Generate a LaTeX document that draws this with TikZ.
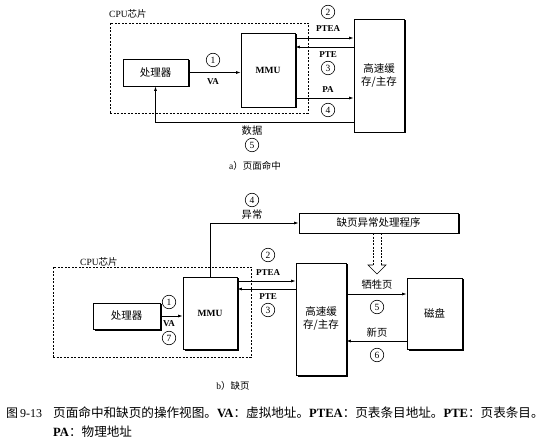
\documentclass[tikz,border=0pt]{standalone}
\usepackage{fontspec}
\setmainfont{Liberation Serif}
\newfontfamily\cjk{Noto Sans CJK SC}
\usetikzlibrary{arrows.meta,shadows}
\tikzset{
  box/.style={draw, line width=0.8pt, fill=white, inner sep=0pt,
    drop shadow={shadow xshift=1.5pt, shadow yshift=-1.5pt, opacity=1, fill=black},
    font=\cjk\fontsize{10.5}{13}\selectfont, align=center},
  cpubox/.style={draw, line width=0.7pt, dash pattern=on 2pt off 1.5pt, inner sep=0pt},
  arr/.style={-{Latex[length=4.5pt,width=3pt]}, line width=0.7pt},
  num/.style={circle, draw, line width=0.6pt, minimum size=13.5pt, inner sep=0pt, font=\fontsize{9.5}{9.5}\selectfont},
  lab/.style={inner sep=0pt, font=\bfseries\fontsize{9}{10}\selectfont},
  zhlab/.style={inner sep=0pt, font=\cjk\fontsize{10.3}{11}\selectfont},
  subcap/.style={inner sep=0pt, font=\fontsize{9.5}{10}\selectfont},
  cpulab/.style={anchor=west, inner sep=0pt, font=\fontsize{9.5}{10}\selectfont},
}
\begin{document}
\begin{tikzpicture}[x=1pt,y=-1pt]
\useasboundingbox (0,0) rectangle (543,443);
% ---------------- (a) page hit ----------------
\node[cpubox, minimum width=198, minimum height=90] (cpuA) at (209,68) {};
\node[cpulab] (cpuAl) at (109,14) {CPU{\cjk 芯片}};
\node[box, minimum width=65, minimum height=27] (procA) at (155.5,72.5) {处理器};
\node[box, minimum width=54, minimum height=74, font=\bfseries\fontsize{9.5}{11}\selectfont] (mmuA) at (268,70) {MMU};
\node[box, minimum width=50, minimum height=113] (cacheA) at (379,75.5) {高速缓\\存/主存};

\draw[arr] (procA.east) -- (procA.east -| mmuA.west);
\draw[arr] (mmuA.east |- 0,38) -- (cacheA.west |- 0,38);
\draw[arr] (cacheA.west |- 0,47) -- (mmuA.east |- 0,47);
\draw[arr] (mmuA.east |- 0,98) -- (cacheA.west |- 0,98);
\draw[arr] (cacheA.west |- 0,122) -| (procA.south);

\node[num] (a1) at (213,60) {1};
\node[lab] (aVA) at (213,82) {VA};
\node[num] (a2) at (328,12) {2};
\node[lab] (aPTEA) at (328,29) {PTEA};
\node[lab] (aPTE) at (328,55) {PTE};
\node[num] (a3) at (328,68) {3};
\node[lab] (aPA) at (328,90) {PA};
\node[num] (a4) at (328,110) {4};
\node[zhlab] (adata) at (252,131) {数据};
\node[num] (a5) at (252,145) {5};
\node[subcap] (capA) at (255,166) {a{\cjk ）页面命中}};

% ---------------- (b) page fault ----------------
\node[cpubox, minimum width=198, minimum height=90] (cpuB) at (152,312) {};
\node[cpulab] (cpuBl) at (80,262) {CPU{\cjk 芯片}};
\node[box, minimum width=67, minimum height=26] (procB) at (126.5,316) {处理器};
\node[box, minimum width=54, minimum height=72, font=\bfseries\fontsize{9.5}{11}\selectfont] (mmuB) at (210,313) {MMU};
\node[box, minimum width=50, minimum height=112] (cacheB) at (321,319) {高速缓\\存/主存};
\node[box, minimum width=55, minimum height=71] (diskB) at (434.5,313.5) {磁盘};
\node[box, minimum width=159, minimum height=20] (handler) at (378.5,223) {缺页异常处理程序};

\draw[arr] (mmuB.north) |- (handler.west);
\draw[arr] (procB.east) -- (procB.east -| mmuB.west);
\draw[arr] (mmuB.east |- 0,281) -- (cacheB.west |- 0,281);
\draw[arr] (cacheB.west |- 0,289) -- (mmuB.east |- 0,289);
\draw[arr] (cacheB.east |- 0,294) -- (diskB.west |- 0,294);
\draw[arr] (diskB.west |- 0,341) -- (cacheB.east |- 0,341);

% hollow dashed arrow from handler
\coordinate (hTip) at (377,274);
\draw[line width=0.6pt, dash pattern=on 2pt off 1.3pt] (handler.south -| 373,0) -- (373,265);
\draw[line width=0.6pt, dash pattern=on 2pt off 1.3pt] (handler.south -| 381,0) -- (381,265);
\draw[line width=0.6pt, line join=miter] (373,265) -- (368,265) -- (hTip) -- (386,265) -- (381,265);

\node[num] (b4) at (252,200) {4};
\node[zhlab] (bexc) at (252,215) {异常};
\node[num] (b1) at (169,302) {1};
\node[lab] (bVA) at (169,324) {VA};
\node[num] (b7) at (169,338) {7};
\node[num] (b2) at (268,255) {2};
\node[lab] (bPTEA) at (268,273) {PTEA};
\node[lab] (bPTE) at (268,297) {PTE};
\node[num] (b3) at (268,310) {3};
\node[zhlab] (bvict) at (377,285) {牺牲页};
\node[num] (b5) at (377,307) {5};
\node[zhlab] (bnew) at (377,333) {新页};
\node[num] (b6) at (377,355) {6};
\node[subcap] (capB) at (233,386) {b{\cjk ）缺页}};

% ---------------- figure caption ----------------
\node[anchor=west, inner sep=0pt, font=\fontsize{12}{13}\selectfont] (fig) at (6,413) {{\cjk 图}\,9-13};
\node[anchor=west, inner sep=0pt, font=\fontsize{12.6}{13}\selectfont] (cap1) at (53,413)
  {{\cjk 页面命中和缺页的操作视图。}{\bfseries VA}{\cjk ：虚拟地址。}{\bfseries PTEA}{\cjk ：页表条目地址。}{\bfseries PTE}{\cjk ：页表条目。}};
\node[anchor=west, inner sep=0pt, font=\fontsize{12.6}{13}\selectfont] (cap2) at (53,432)
  {{\bfseries PA}{\cjk ：物理地址}};
\end{tikzpicture}
\end{document}
